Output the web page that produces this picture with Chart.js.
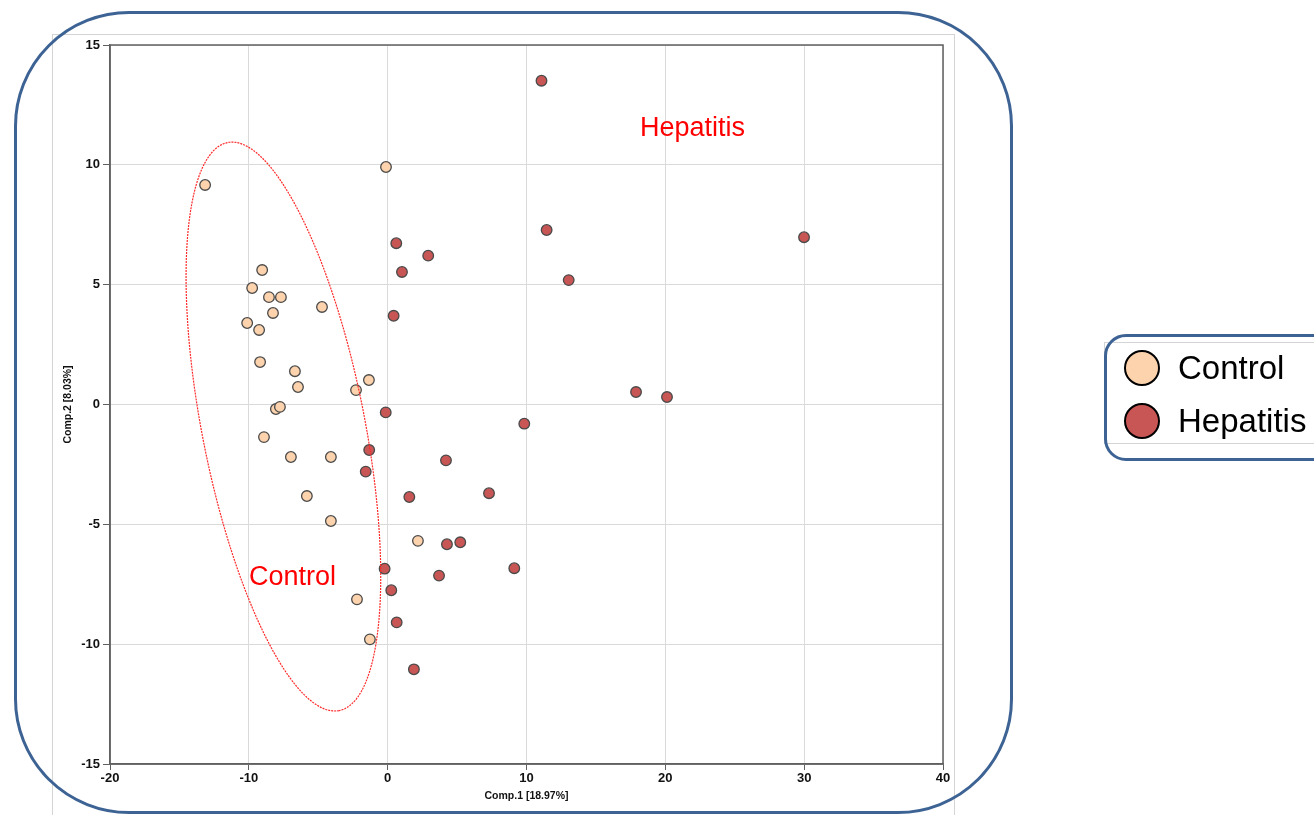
<!DOCTYPE html>
<html>
<head>
<meta charset="utf-8">
<script src="https://cdn.jsdelivr.net/npm/chart.js@4/dist/chart.umd.min.js"></script>
<style>
  html, body { margin: 0; padding: 0; background: #fff; }
  #wrap { position: relative; width: 1314px; height: 815px; overflow: hidden; font-family: Arial, "Liberation Sans", sans-serif; }
  #plot { position: absolute; left: 0; top: 0; }
  .frame { position: absolute; left: 14px; top: 11px; width: 993px; height: 797px; border: 3.5px solid #3d6394; border-radius: 115px; pointer-events: none; }
  #legend { position: absolute; left: 1104px; top: 342px; width: 230px; height: 100px; border: 1px solid #d4d4d4; }
  .legend-frame { position: absolute; left: 1104px; top: 334px; width: 240px; height: 121px; border: 3.5px solid #3d6394; border-radius: 22px; pointer-events: none; }
  .item { position: absolute; left: 19px; height: 40px; display: flex; align-items: center; }
  .dot { width: 36px; height: 36px; border-radius: 50%; border: 2.5px solid #000; box-sizing: border-box; }
  .item span { margin-left: 18px; font-size: 33px; color: #000; line-height: 40px; }
</style>
</head>
<body>
<div id="wrap">
  <canvas id="plot" width="1314" height="815"></canvas>
  <div class="frame"></div>
  <div id="legend"></div>
  <div class="legend-frame"></div>
</div>
<script>
// score plot values (Comp.1, Comp.2)
const controlX = [-13.15, -0.12, -9.04, -9.76, -8.55, -7.69, -8.26, -4.73, -10.12, -9.26, -9.19, -6.68, -6.46, -2.28, -1.35, -8.05, -7.76, -8.91, -6.97, -4.09, -5.82, -4.09, 2.18, -2.21, -1.28];
const controlY = [9.16, 9.91, 5.61, 4.86, 4.48, 4.48, 3.82, 4.07, 3.40, 3.11, 1.77, 1.39, 0.73, 0.60, 1.02, -0.19, -0.10, -1.36, -2.19, -2.19, -3.82, -4.86, -5.69, -8.13, -9.80];
const hepatitisX = [11.08, 11.45, 13.04, 29.99, 0.62, 2.92, 1.03, 0.43, 17.89, 20.12, -0.14, 9.84, -1.33, 4.20, -1.58, 1.56, 7.30, 4.27, 5.23, -0.22, 3.70, 9.12, 0.26, 0.65, 1.89];
const hepatitisY = [13.51, 7.28, 5.19, 6.98, 6.73, 6.21, 5.53, 3.70, 0.52, 0.31, -0.33, -0.80, -1.90, -2.33, -2.80, -3.86, -3.70, -5.83, -5.75, -6.85, -7.14, -6.83, -7.75, -9.09, -11.05];

const groupNames = ['Control', 'Hepatitis'];
const groupColors = ['#fdd3ae', '#c85655'];

// control confidence ellipse: centre and two half-axis vectors, in data units
const ellipseCenter = [-7.51, -0.92];
const ellipseU = [4.016, -11.85];
const ellipseV = [-5.747, -0.653];

// group labels placed in data coordinates
const groupLabels = [
  { text: 'Hepatitis', x: 18.17, y: 11.5 },
  { text: 'Control', x: -9.99, y: -7.2 }
];

const toPoints = (xs, ys) => xs.map((x, i) => ({ x: x, y: ys[i] }));

const extras = {
  id: 'extras',
  beforeDraw(chart) {
    const c = chart.ctx;
    c.save();
    c.strokeStyle = '#d4d4d4';
    c.lineWidth = 1;
    c.strokeRect(52.5, 34.5, 902, 800);
    c.restore();
  },
  afterDatasetsDraw(chart) {
    const c = chart.ctx, xs = chart.scales.x, ys = chart.scales.y, a = chart.chartArea;
    c.save();
    // ellipse
    c.strokeStyle = '#ff2a2a';
    c.lineWidth = 1.2;
    c.setLineDash([2, 1]);
    c.beginPath();
    for (let k = 0; k <= 240; k++) {
      const t = k / 240 * Math.PI * 2;
      const dx = ellipseCenter[0] + ellipseU[0] * Math.cos(t) + ellipseV[0] * Math.sin(t);
      const dy = ellipseCenter[1] + ellipseU[1] * Math.cos(t) + ellipseV[1] * Math.sin(t);
      const px = xs.getPixelForValue(dx), py = ys.getPixelForValue(dy);
      if (k === 0) c.moveTo(px, py); else c.lineTo(px, py);
    }
    c.stroke();
    c.setLineDash([]);
    // labels
    c.fillStyle = '#ff0000';
    c.font = '27px Arial, "Liberation Sans", sans-serif';
    c.textBaseline = 'middle';
    groupLabels.forEach(l => c.fillText(l.text, xs.getPixelForValue(l.x), ys.getPixelForValue(l.y)));
    // plot box
    c.strokeStyle = '#606060';
    c.lineWidth = 1.5;
    c.strokeRect(a.left, a.top, a.right - a.left, a.bottom - a.top);
    c.restore();
  }
};

const chart = new Chart(document.getElementById('plot'), {
  type: 'scatter',
  data: {
    datasets: [
      { label: groupNames[0], data: toPoints(controlX, controlY), backgroundColor: groupColors[0], borderColor: '#4a4a4a', borderWidth: 1.3, pointRadius: 5.3 },
      { label: groupNames[1], data: toPoints(hepatitisX, hepatitisY), backgroundColor: groupColors[1], borderColor: '#4a4a4a', borderWidth: 1.3, pointRadius: 5.3 }
    ]
  },
  options: {
    responsive: false,
    animation: false,
    layout: { padding: { left: 52, top: 45, right: 371, bottom: 9 } },
    plugins: { legend: { display: false }, tooltip: { enabled: false } },
    scales: {
      x: {
        min: -20, max: 40,
        ticks: { stepSize: 10, color: '#111', font: { size: 13, weight: 'bold' }, padding: 1 },
        grid: { color: '#dadada', tickColor: '#606060', tickLength: 6 },
        border: { color: '#606060', width: 1.5 },
        title: { display: true, text: 'Comp.1 [18.97%]', color: '#111', font: { size: 10.5, weight: 'bold' }, padding: { top: 3 } },
        afterFit(s) { s.height = 42; }
      },
      y: {
        min: -15, max: 15,
        ticks: { stepSize: 5, color: '#111', font: { size: 13, weight: 'bold' }, padding: 3 },
        grid: { color: '#dadada', tickColor: '#606060', tickLength: 7 },
        border: { color: '#606060', width: 1.5 },
        title: { display: true, text: 'Comp.2 [8.03%]', color: '#111', font: { size: 10.5, weight: 'bold' }, padding: { top: 10, bottom: 4 } },
        afterFit(s) { s.width = 58; }
      }
    }
  },
  plugins: [extras]
});

// legend built from datasets
const legend = document.getElementById('legend');
chart.data.datasets.forEach((d, i) => {
  const item = document.createElement('div');
  item.className = 'item';
  item.style.top = (5 + i * 53) + 'px';
  item.innerHTML = '<div class="dot" style="background:' + d.backgroundColor + '"></div><span>' + d.label + '</span>';
  legend.appendChild(item);
});
</script>
</body>
</html>
